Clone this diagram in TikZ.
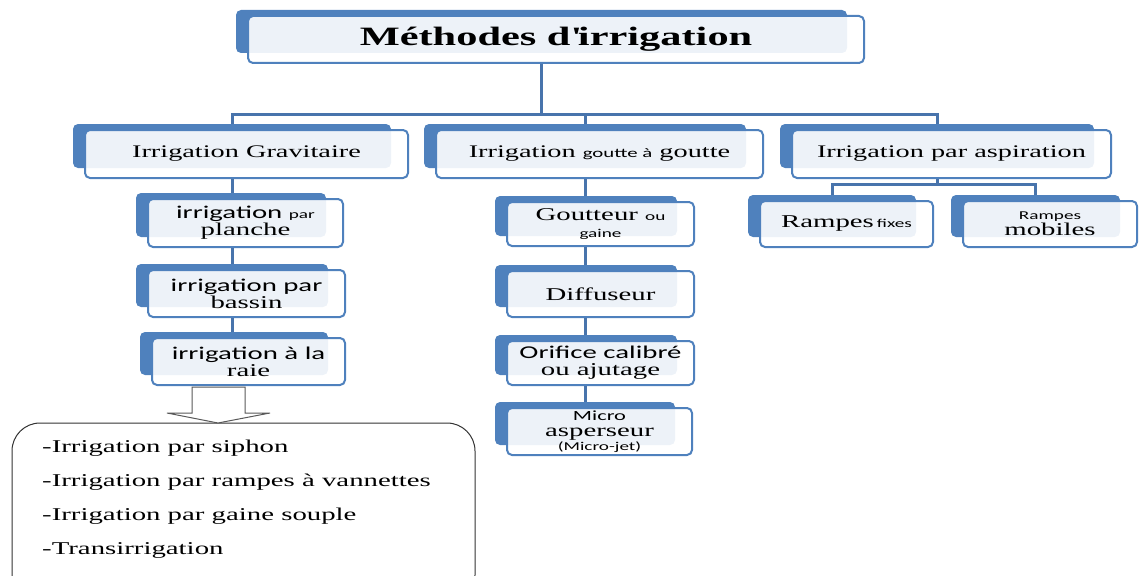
\documentclass[tikz,border=0pt]{standalone}
\usepackage{fontspec}
\setmainfont{Liberation Serif}[FakeStretch=1.6]
\newfontfamily\sansf{Carlito}[FakeStretch=1.6]
\definecolor{accent}{HTML}{4F81BD}
\definecolor{conncol}{HTML}{4874AC}
\tikzset{
  backbox/.style={fill=accent, draw=none, rounded corners=5pt, inner sep=0pt},
  frontbox/.style={fill=white, fill opacity=0.9, text opacity=1, draw=accent,
    line width=2pt, rounded corners=5pt, inner sep=0pt, align=center,
    font=\fontsize{18}{17}\selectfont},
  conn/.style={draw=conncol, line width=3pt},
  listline/.style={anchor=base west, inner sep=0pt, font=\fontsize{18}{19}\selectfont}
}
\newcommand\smbox[6]{%
  \node[backbox, minimum width={(#4-#2-5)*1pt}, minimum height={(#5-#3-4)*1pt}]
    (#1B) at ({(#2+#4-29)/2},{(#3+#5-16)/2}) {};
  \node[frontbox, minimum width={(#4-#2)*1pt}, minimum height={(#5-#3)*1pt}]
    (#1) at ({(#2+#4)/2},{(#3+#5)/2}) {#6};
}
\newcommand\sm[1]{{\sansf\fontsize{12}{12}\selectfont #1}}
\begin{document}
\begin{tikzpicture}[x=1pt,y=-1pt]
\useasboundingbox (0,0) rectangle (1139,575);
% level 1
\smbox{top}{248}{16}{864}{63}{\bfseries\fontsize{26.5}{28}\selectfont M\'ethodes d\textquotesingle irrigation}
% level 2
\smbox{grav}{85}{130}{408}{178}{\fontsize{17.7}{19}\selectfont Irrigation Gravitaire}
\smbox{gout}{436}{130}{763}{178}{\fontsize{17.7}{19}\selectfont Irrigation {\sansf\fontsize{13}{14}\selectfont goutte \`a} goutte}
\smbox{asp}{792}{130}{1111}{178}{\fontsize{17.7}{19}\selectfont Irrigation par aspiration}
% gravitaire children
\smbox{plan}{148}{199}{343}{247}{{\sansf irrigation \sm{par}}\\planche}
\smbox{bass}{148}{270}{345}{317}{\sansf irrigation par\\bassin}
\smbox{raie}{152}{338}{345}{385}{\sansf irrigation \`a la\\raie}
% goutte children
\smbox{gtr}{507}{202}{694}{246}{Goutteur \sm{ou}\\\sm{gaine}}
\smbox{diff}{507}{271}{694}{317}{Diffuseur}
\smbox{orif}{507}{341}{694}{385}{\sansf Orifice calibr\'e\\ou ajutage}
\smbox{micro}{507}{408}{692}{455}{{\sansf\fontsize{14}{14}\selectfont Micro}\\[-1pt]asperseur\\[-3pt]\sm{(Micro-jet)}}
% aspiration children
\smbox{fix}{760}{201}{933}{247}{Rampes\,\sm{fixes}}
\smbox{mob}{963}{201}{1137}{247}{\sm{Rampes}\\[-1pt]mobiles}
% connectors
\coordinate (bus) at (0,115);
\coordinate (bus2) at (0,184);
\draw[conn] (topB.south |- top.south) -- (topB.south |- bus);
\draw[conn] (gravB.north) |- (aspB.north |- bus) -- (aspB.north);
\draw[conn] (goutB.north |- bus) -- (goutB.north);
\draw[conn] (gravB.south |- grav.south) -- (gravB.south |- planB.north);
\draw[conn] (gravB.south |- plan.south) -- (gravB.south |- bassB.north);
\draw[conn] (gravB.south |- bass.south) -- (gravB.south |- raieB.north);
\draw[conn] (goutB.south |- gout.south) -- (goutB.south |- gtrB.north);
\draw[conn] (goutB.south |- gtr.south) -- (goutB.south |- diffB.north);
\draw[conn] (goutB.south |- diff.south) -- (goutB.south |- orifB.north);
\draw[conn] (goutB.south |- orif.south) -- (goutB.south |- microB.north);
\draw[conn] (aspB.south |- asp.south) -- (aspB.south |- bus2);
\draw[conn] (fixB.north) |- (mobB.north |- bus2) -- (mobB.north);
% list box
\node[draw=black!80, line width=1pt, rounded corners=28pt, inner sep=0pt,
  minimum width=463pt, minimum height=180pt] (list) at (243.5,513) {};
\node[listline] (l1) at (42,452) {-Irrigation par siphon};
\node[listline] (l2) at (42,486) {-Irrigation par rampes \`a vannettes};
\node[listline] (l3) at (42,520) {-Irrigation par gaine souple};
\node[listline] (l4) at (42,554) {-Transirrigation};
% block arrow
\draw[draw=black!65, line width=1pt, fill=white, line join=miter]
  (192,387) -- (245,387) -- (245,413) -- (270,413) -- (218,423) -- (167,413) -- (192,413) -- cycle;
\end{tikzpicture}
\end{document}
